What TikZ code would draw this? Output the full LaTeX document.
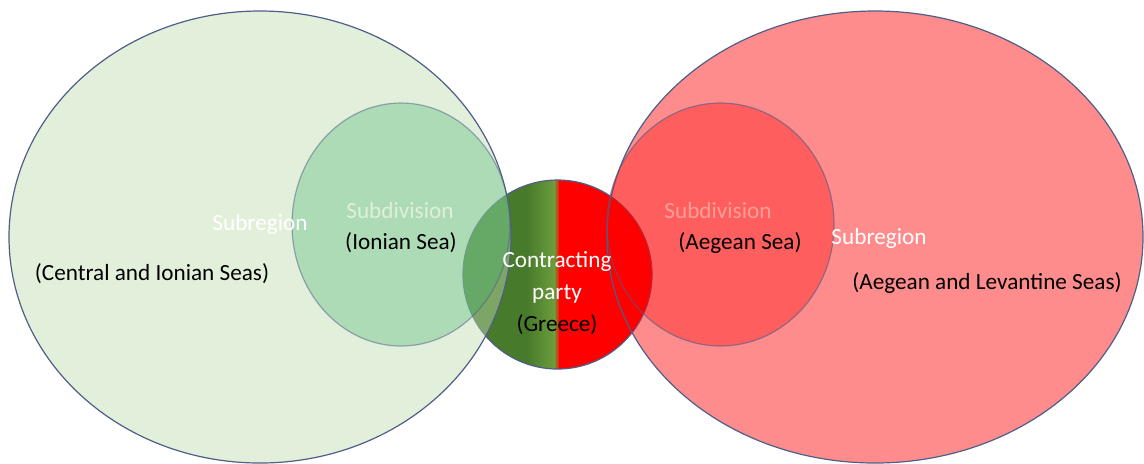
\documentclass[tikz,border=0pt]{standalone}
\usepackage{fontspec}
\setmainfont{Carlito}
\usepackage{tikz}
\usetikzlibrary{positioning}

\definecolor{rim}{RGB}{78,94,136}
\definecolor{regiongreen}{RGB}{191,219,173}
\definecolor{subgreen}{RGB}{49,176,101}
\definecolor{partydark}{RGB}{72,122,44}
\definecolor{partylight}{RGB}{108,158,60}
\definecolor{subtextgreen}{RGB}{222,240,218}
\definecolor{subtextred}{RGB}{255,158,152}

\tikzset{
  label text/.style={font=\fontsize{11.6}{16}\selectfont, inner sep=0pt},
  white text/.style={label text, text=white}
}

\begin{document}
\begin{tikzpicture}[x=0.5pt, y=-0.5pt]

\useasboundingbox (0,0) rectangle (1144,463);

% Draw contracting party circle
\begin{scope}
\clip (557.5,274.5) circle [radius=94.5];
\fill[partydark] (460,178) rectangle (528,372);
\shade[left color=partydark, right color=partylight] (527,178) rectangle (555,372);
\shade[left color=partylight, right color=red] (554,178) rectangle (560,372);
\fill[red] (559,178) rectangle (655,372);
\end{scope}
\draw[rim, line width=0.6pt] (557.5,274.5) circle [radius=94.5];

% Draw subregions
\draw[rim, line width=0.6pt, fill=regiongreen, fill opacity=0.45] (260,237) ellipse [x radius=251, y radius=226];
\draw[rim, line width=0.6pt, fill=red, fill opacity=0.45] (875,237) ellipse [x radius=268, y radius=226];

% Draw subdivisions
\draw[rim, draw opacity=0.5, line width=0.6pt, fill=subgreen, fill opacity=0.3] (401,224.5) ellipse [x radius=109, y radius=121.5];
\draw[rim, draw opacity=0.6, line width=0.6pt, fill=red, fill opacity=0.33] (720.5,224.5) ellipse [x radius=113.5, y radius=121.5];

% Left side labels
\node[white text] (subregionL) at (260,224) {Subregion};
\node[label text] (seasL) at (152,274) {(Central and Ionian Seas)};
\node[label text, text=subtextgreen] (subdivisionL) at (400,211) {Subdivision};
\node[label text] (ionian) at (401,243) {(Ionian Sea)};

% Contracting party label
\node[label text, align=center] (party) at (557,293) {\textcolor{white}{Contracting}\\\textcolor{white}{party}\\(Greece)};

% Right side labels
\node[label text, text=subtextred] (subdivisionR) at (718,211) {Subdivision};
\node[label text] (aegean) at (740,243) {(Aegean Sea)};
\node[white text] (subregionR) at (879,238) {Subregion};
\node[label text] (seasR) at (987,283) {(Aegean and Levantine Seas)};

\end{tikzpicture}
\end{document}
